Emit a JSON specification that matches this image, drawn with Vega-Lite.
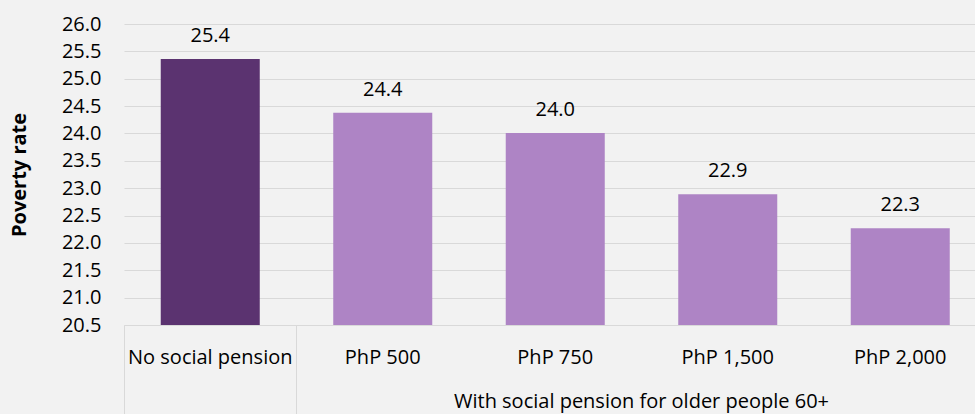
{
  "$schema": "https://vega.github.io/schema/vega-lite/v6.json",
  "width": 851,
  "height": 301,
  "autosize": {"type": "none"},
  "padding": {"left": 124, "top": 24, "right": 0, "bottom": 89},
  "background": "#f2f2f2",
  "config": {
    "view": {"stroke": null},
    "font": "Open Sans"
  },
  "data": {
    "values": [
      {"category": "No social pension", "value": 25.36, "type": "none"},
      {"category": "PhP 500", "value": 24.38, "type": "with"},
      {"category": "PhP 750", "value": 24.01, "type": "with"},
      {"category": "PhP 1,500", "value": 22.89, "type": "with"},
      {"category": "PhP 2,000", "value": 22.27, "type": "with"}
    ]
  },
  "encoding": {
    "x": {
      "field": "category",
      "type": "nominal",
      "sort": null,
      "scale": {"range": [0, 862.5], "paddingInner": 0.426, "paddingOuter": 0.213},
      "axis": {
        "title": "With social pension for older people 60+",
        "titleFont": "Open Sans",
        "titleFontSize": 20,
        "titleFontWeight": "normal",
        "titleColor": "#000000",
        "titleX": 517,
        "titleY": 76,
        "titleBaseline": "middle",
        "titleAlign": "center",
        "labelAngle": 0,
        "labelFont": "Open Sans",
        "labelFontSize": 20,
        "labelColor": "#000000",
        "labelBaseline": "middle",
        "labelPadding": -57,
        "domainColor": "#d9d9d9",
        "domainWidth": 1,
        "ticks": true,
        "bandPosition": -0.371,
        "tickSize": 89,
        "tickColor": "#d9d9d9",
        "tickWidth": 1,
        "tickOpacity": {
          "condition": {"test": "datum.value === 'No social pension' || datum.value === 'PhP 500'", "value": 1},
          "value": 0
        },
        "grid": false
      }
    },
    "y": {
      "field": "value",
      "type": "quantitative",
      "scale": {"domain": [20.5, 26.0], "zero": false, "nice": false},
      "axis": {
        "title": "Poverty rate",
        "titleFont": "Open Sans",
        "titleFontSize": 20,
        "titleFontWeight": "bold",
        "titleColor": "#000000",
        "titlePadding": 32,
        "values": [20.5, 21.0, 21.5, 22.0, 22.5, 23.0, 23.5, 24.0, 24.5, 25.0, 25.5, 26.0],
        "format": ".1f",
        "labelFont": "Open Sans",
        "labelFontSize": 20,
        "labelColor": "#000000",
        "labelPadding": 23,
        "ticks": false,
        "tickSize": 0,
        "domain": false,
        "grid": true,
        "gridColor": "#d9d9d9",
        "gridWidth": 1
      }
    }
  },
  "layer": [
    {
      "mark": {"type": "bar", "clip": true},
      "encoding": {
        "color": {
          "field": "type",
          "type": "nominal",
          "scale": {"domain": ["none", "with"], "range": ["#5b3370", "#ae84c5"]},
          "legend": null
        }
      }
    },
    {
      "mark": {"type": "text", "baseline": "alphabetic", "dy": -17, "fontSize": 20, "font": "Open Sans", "color": "#000000"},
      "encoding": {
        "text": {"field": "value", "type": "quantitative", "format": ".1f"}
      }
    }
  ]
}
